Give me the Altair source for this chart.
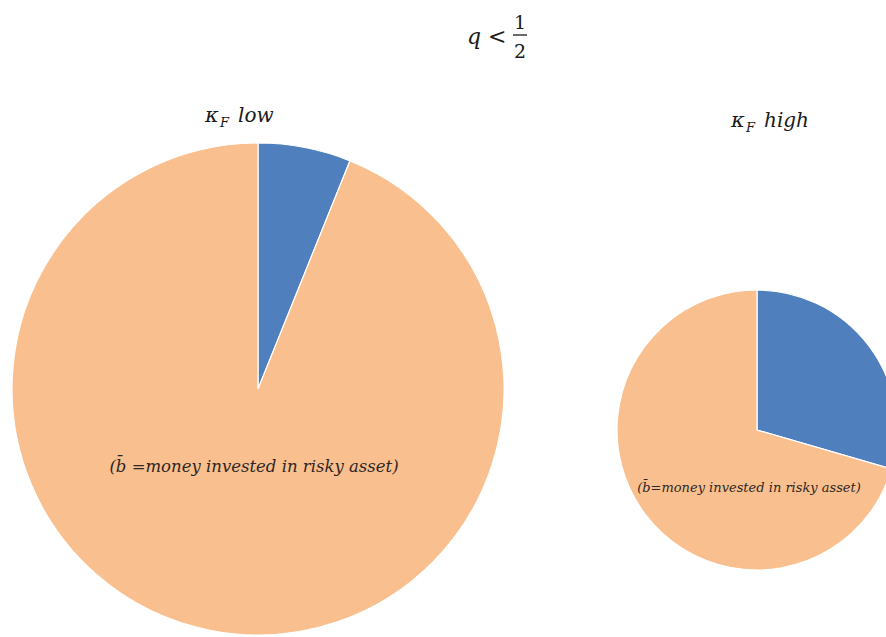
import altair as alt
import pandas as pd

# Shares of wealth in the two portfolios (risky asset first, then the rest)
parts = ["risky", "safe"]
low_shares = [0.061, 0.939]
high_shares = [0.295, 0.705]
part_colors = ["#4F7FBC", "#F9BF8F"]

title_lhs = ["q <"]
frac_num = ["1"]
frac_den = ["2"]
panel_symbol = ["κ"]
panel_sub = ["F"]
panel_words = ["low", "high"]
note = "(b\u0304 =money invested in risky asset)"
note_tight = "(b\u0304=money invested in risky asset)"

W, H = 886, 637
MATH_FONT = "DejaVu Serif"


def pie(shares, cx, cy, r):
    df = pd.DataFrame({"part": parts, "share": shares, "rank": [0, 1]})
    return (
        alt.Chart(df)
        .mark_arc(radius=r, stroke="white", strokeWidth=1.2)
        .encode(
            theta=alt.Theta("share:Q", stack=True),
            color=alt.Color("part:N", scale=alt.Scale(domain=parts, range=part_colors), legend=None),
            order=alt.Order("rank:Q"),
            x=alt.value(cx),
            y=alt.value(cy),
        )
    )


def label(txt, x, y, size, italic=True, align="left", color="#1a1a1a", baseline="alphabetic"):
    df = pd.DataFrame({"t": [txt]})
    return (
        alt.Chart(df)
        .mark_text(
            font=MATH_FONT,
            fontSize=size,
            fontStyle="italic" if italic else "normal",
            align=align,
            baseline=baseline,
            color=color,
        )
        .encode(text="t:N", x=alt.value(x), y=alt.value(y))
    )


frac_bar = (
    alt.Chart(pd.DataFrame({"k": [0]}))
    .mark_rule(color="#1a1a1a", strokeWidth=1.3)
    .encode(x=alt.value(513), x2=alt.value(527), y=alt.value(35))
)

layers = [
    pie(low_shares, 258, 389, 246),
    pie(high_shares, 757, 430, 140),
    # title: q < 1/2
    label(title_lhs[0], 467, 44, 22),
    label(frac_num[0], 520, 29, 19, italic=False, align="center"),
    frac_bar,
    label(frac_den[0], 520, 58, 19, italic=False, align="center"),
    # panel headings
    label(panel_symbol[0], 205, 122, 21),
    label(panel_sub[0], 220, 127, 13),
    label(panel_words[0], 238, 122, 20),
    label(panel_symbol[0], 731, 127, 21),
    label(panel_sub[0], 746, 132, 13),
    label(panel_words[1], 764, 127, 20),
    # notes inside the pies
    label(note, 254, 467, 16.5, align="center", color="#2e2724", baseline="middle"),
    label(note_tight, 749, 488, 13, align="center", color="#2e2724", baseline="middle"),
]

chart = (
    alt.layer(*layers)
    .properties(width=W, height=H, padding=0, autosize=alt.AutoSizeParams(type="none"), background="white")
    .configure_view(stroke=None)
)

chart.save("out.html", embed_options={"renderer": "svg", "actions": False})
